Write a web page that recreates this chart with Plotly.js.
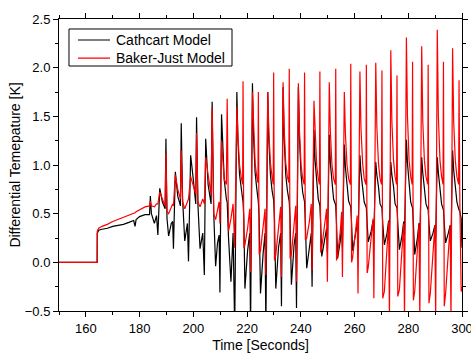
<!DOCTYPE html>
<html>
<head>
<meta charset="utf-8">
<script src="https://cdn.plot.ly/plotly-3.0.1.min.js"></script>
<style>
html,body{margin:0;padding:0;background:#fff;}
#chart{width:471px;height:353px;}
</style>
</head>
<body>
<div id="chart"></div>
<script>
// Time [s]
const time = [
  150, 164.2, 164.25, 164.8, 166, 168, 170, 172, 174, 176, 177.8, 178.3, 178.7, 180, 182, 183.7, 184.0, 184.4, 185.5, 186.3, 186.8,
  187.5, 188.5, 189.5, 189.8, 190.2, 190.8, 191.8, 192.3, 192.6, 193.3, 194.2, 195.2, 195.5, 196.0, 196.8, 197.8, 198.2, 199.0, 200.0, 200.9,
  201.2, 201.7, 202.5, 203.5, 204.1, 204.6, 205.5, 206.6, 207.0, 207.6, 208.3, 209.0, 209.6, 209.9, 210.5, 211.5, 212.3, 212.6, 213.1, 214.0, 214.8, 215.4,
  216.2, 216.6, 217.2, 217.8, 218.35, 218.5, 218.8, 219.2, 220.2, 221.0, 221.3,
  222.0, 222.4, 223.0, 223.6, 224.05, 224.2, 224.5, 225.0, 226.0, 226.7, 227.0,
  227.7, 228.1, 228.7, 229.3, 229.75, 229.9, 230.2, 230.7, 231.7, 232.5, 232.8,
  233.4, 233.8, 234.4, 235.0, 235.55, 235.7, 236.0, 236.5, 237.5, 238.1, 238.4,
  239.1, 239.5, 240.1, 240.7, 241.25, 241.4, 241.7, 242.2, 243.2, 243.9, 244.2,
  244.9, 245.3, 245.9, 246.5, 246.95, 247.1, 247.4, 247.8, 248.8, 249.6, 249.9,
  250.6, 251.0, 251.6, 252.2, 252.85, 253.0, 253.3, 253.7, 254.7, 255.2, 255.5,
  256.2, 256.6, 257.2, 257.8, 258.45, 258.6, 258.9, 259.3, 260.3, 261.0, 261.3,
  262.0, 262.4, 263.0, 263.6, 264.25, 264.4, 264.7, 265.1, 266.2, 266.9, 267.2,
  267.9, 268.3, 268.9, 269.5, 270.05, 270.2, 270.5, 271.1, 272.1, 272.7, 273.0,
  273.5, 273.9, 274.5, 275.1, 275.65, 275.8, 276.1, 276.7, 277.7, 278.3, 278.6,
  279.3, 279.7, 280.3, 280.9, 281.45, 281.6, 281.9, 282.4, 283.4, 284.0, 284.3,
  285.0, 285.4, 286.0, 286.6, 287.25, 287.4, 287.7, 288.2, 289.2, 289.9, 290.2,
  290.8, 291.2, 291.8, 292.4, 292.95, 293.1, 293.4, 293.9, 294.9, 295.6, 295.9,
  296.5, 296.9, 297.5, 298.1, 298.75, 298.9, 299.2, 299.7, 300.0
];
// Cathcart Model [K]
const cathcart = [
  0, 0, 0.30, 0.33, 0.34, 0.35, 0.37, 0.38, 0.39, 0.41, 0.43, 0.37, 0.44, 0.47, 0.49, 0.49, 0.68, 0.50, 0.40, 0.48, 0.28,
  0.76, 0.62, 0.55, 1.27, 0.45, 0.27, 0.40, 0.42, 0.14, 0.93, 0.68, 0.58, 1.43, 0.65, 0.22, 0.40, 0.01, 1.10, 0.85, 0.60,
  1.49, 0.60, 0.14, 0.30, -0.13, 1.27, 0.80, 0.60, 1.65, 0.50, -0.04, 0.20, 0.28, -0.31, 1.52, 0.85, 0.65, 0.62, 0.25, -0.20, 0.30, -0.70,
  1.75, 1.25, 0.90, 0.75, 0.64, 0.62, 0.45, -0.27, 0.12, 0.30, -0.70,
  1.84, 1.30, 0.92, 0.76, 0.64, 0.62, 0.45, -0.32, 0.10, 0.30, -0.70,
  1.75, 1.25, 0.90, 0.74, 0.66, 0.64, 0.45, -0.27, 0.15, 0.30, -0.45,
  1.80, 1.28, 0.90, 0.74, 0.64, 0.62, 0.45, -0.23, 0.18, 0.30, -0.47,
  1.80, 1.28, 0.90, 0.72, 0.64, 0.62, 0.40, -0.06, 0.15, 0.30, -0.25,
  1.36, 1.05, 0.80, 0.65, 0.60, 0.58, 0.40, 0.06, 0.22, 0.35, 0.10,
  1.31, 1.02, 0.80, 0.65, 0.60, 0.58, 0.40, 0.04, 0.22, 0.38, 0.15,
  1.21, 0.98, 0.80, 0.63, 0.58, 0.57, 0.40, 0.12, 0.28, 0.40, 0.25,
  1.10, 0.92, 0.78, 0.62, 0.57, 0.56, 0.40, 0.21, 0.32, 0.43, 0.30,
  1.03, 0.90, 0.78, 0.60, 0.57, 0.56, 0.40, 0.18, 0.30, 0.43, 0.30,
  1.03, 0.90, 0.78, 0.60, 0.57, 0.56, 0.40, 0.13, 0.28, 0.42, 0.28,
  1.26, 1.02, 0.80, 0.62, 0.57, 0.56, 0.40, 0.08, 0.25, 0.40, 0.25,
  1.08, 0.92, 0.78, 0.60, 0.55, 0.54, 0.40, 0.22, 0.30, 0.38, 0.25,
  1.08, 0.92, 0.78, 0.60, 0.55, 0.54, 0.40, 0.20, 0.30, 0.38, 0.25,
  1.15, 0.95, 0.80, 0.62, 0.55, 0.54, 0.52, 0.45, 0.15
];
// Baker-Just Model [K]
const bakerJust = [
  0, 0, 0.32, 0.35, 0.37, 0.39, 0.42, 0.44, 0.46, 0.48, 0.50, 0.51, 0.52, 0.54, 0.57, 0.58, 0.63, 0.58, 0.57, 0.60, 0.60,
  0.72, 0.65, 0.58, 1.12, 0.52, 0.50, 0.57, 0.60, 0.58, 0.90, 0.75, 0.65, 1.15, 0.62, 0.55, 0.62, 0.65, 0.88, 0.78, 0.70,
  1.33, 0.62, 0.57, 0.65, 0.60, 1.08, 0.90, 0.70, 1.58, 0.50, 0.44, 0.55, 0.62, 0.40, 1.25, 0.85, 0.80, 1.68, 0.32, 0.45, 0.60, 0.15,
  1.60, 1.30, 1.00, 0.88, 0.80, 1.86, 0.15, 0.18, 0.35, 0.55, -0.10,
  1.75, 1.35, 1.02, 0.88, 0.82, 1.75, 0.08, 0.12, 0.35, 0.55, -0.13,
  1.75, 1.35, 1.02, 0.88, 0.80, 1.95, 0.02, 0.08, 0.32, 0.57, -0.15,
  1.85, 1.38, 1.02, 0.88, 0.82, 1.99, 0.04, 0.08, 0.35, 0.58, -0.20,
  1.84, 1.35, 1.00, 0.86, 0.80, 1.95, 0.23, 0.25, 0.42, 0.60, -0.08,
  1.66, 1.30, 1.00, 0.86, 0.80, 1.96, 0.10, 0.15, 0.35, 0.55, -0.20,
  1.85, 1.35, 1.00, 0.86, 0.80, 1.99, 0.02, 0.08, 0.32, 0.52, -0.15,
  1.75, 1.32, 1.00, 0.86, 0.80, 2.04, 0.00, 0.05, 0.30, 0.48, -0.32,
  1.96, 1.38, 1.02, 0.86, 0.80, 2.03, -0.11, -0.05, 0.25, 0.45, -0.37,
  2.05, 1.40, 1.02, 0.86, 0.80, 1.97, -0.37, -0.30, 0.20, 0.42, -0.60,
  2.18, 1.45, 1.05, 0.88, 0.80, 1.92, -0.35, -0.28, 0.18, 0.40, -0.60,
  2.31, 1.50, 1.05, 0.88, 0.80, 2.06, -0.39, -0.30, 0.18, 0.40, -0.60,
  2.22, 1.45, 1.05, 0.88, 0.80, 2.03, -0.42, -0.32, 0.15, 0.38, -0.60,
  2.39, 1.50, 1.05, 0.88, 0.80, 2.06, -0.45, -0.32, 0.15, 0.38, -0.60,
  2.20, 1.45, 1.05, 0.88, 0.80, 1.87, 0.60, -0.30, -0.25
];
const seriesNames = ['Cathcart Model', 'Baker-Just Model'];
const seriesColors = ['#000000', '#ff0000'];
const xTitle = 'Time [Seconds]';
const yTitle = 'Differential Temepature [K]';

const font = '"Liberation Sans", Arial, sans-serif';
const data = [
  {x: time, y: cathcart, name: seriesNames[0], type: 'scatter', mode: 'lines',
   line: {color: seriesColors[0], width: 1.2}},
  {x: time, y: bakerJust, name: seriesNames[1], type: 'scatter', mode: 'lines',
   line: {color: seriesColors[1], width: 1.2}}
];

// Legend box drawn in paper coordinates (framed, like the original)
const legendRows = [0.928, 0.866];
const shapes = [
  {type: 'rect', xref: 'paper', yref: 'paper', x0: 0.0248, x1: 0.4293, y0: 0.839, y1: 0.9658,
   line: {color: '#000', width: 1}, fillcolor: '#fff', layer: 'above'}
];
const annotations = [];
seriesNames.forEach((nm, i) => {
  shapes.push({type: 'line', xref: 'paper', yref: 'paper', x0: 0.0471, x1: 0.1266,
               y0: legendRows[i], y1: legendRows[i], line: {color: seriesColors[i], width: 1.2}, layer: 'above'});
  annotations.push({xref: 'paper', yref: 'paper', x: 0.137, y: legendRows[i], xanchor: 'left', yanchor: 'middle',
                    text: nm, showarrow: false, font: {family: font, size: 14, color: '#000'}});
});

const axisCommon = {
  showline: true, linecolor: '#000', linewidth: 1, mirror: 'allticks',
  ticks: 'outside', ticklen: 5, tickcolor: '#000', tickwidth: 1,
  showgrid: false, zeroline: false, automargin: false, ticklabeloverflow: 'allow',
  tickfont: {family: font, size: 13, color: '#000'}
};
const layout = {
  width: 471, height: 353,
  margin: {l: 59, r: 9, t: 19, b: 42},
  paper_bgcolor: '#fff', plot_bgcolor: '#fff',
  font: {family: font, color: '#000'},
  showlegend: false,
  shapes: shapes,
  annotations: annotations,
  xaxis: Object.assign({}, axisCommon, {
    range: [150, 300], dtick: 20, tick0: 160,
    minor: {dtick: 10, ticks: 'outside', ticklen: 3, tickcolor: '#000'},
    title: {text: xTitle, font: {family: font, size: 14, color: '#000'}, standoff: 13}
  }),
  yaxis: Object.assign({}, axisCommon, {
    range: [-0.5, 2.5], dtick: 0.5, tick0: 0, tickformat: '.1f',
    minor: {dtick: 0.25, ticks: 'outside', ticklen: 3, tickcolor: '#000'},
    title: {text: yTitle, font: {family: font, size: 14, color: '#000'}, standoff: 0}
  })
};
Plotly.newPlot('chart', data, layout, {staticPlot: true, displayModeBar: false});
</script>
</body>
</html>
